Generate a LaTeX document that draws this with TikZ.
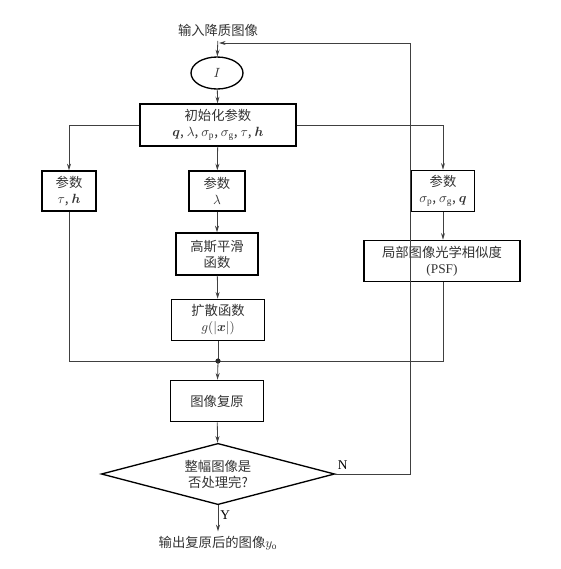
\documentclass[tikz,border=0pt]{standalone}
\usepackage{amsmath}
\usepackage{bm}
\usepackage{fontspec}
\setmainfont{Liberation Serif}
\newfontfamily\cjk{Noto Sans CJK SC}
\usetikzlibrary{shapes.geometric, arrows.meta}
\tikzset{
  box/.style={draw, line width=1pt, align=center, inner sep=0pt, text=black!80, font=\cjk\fontsize{10}{12}\selectfont},
  plain/.style={align=center, text=black!80, font=\cjk\fontsize{10}{12}\selectfont},
  link/.style={draw=black!75, line width=0.6pt},
  arr/.style={link, -{Stealth[length=5pt, width=3pt]}},
}

\begin{document}
\begin{tikzpicture}[x=0.75pt, y=-0.75pt]
	\useasboundingbox (0,0) rectangle (561,569);

	% nodes
	\node[plain] (input) at (218,30) {输入降质图像};
	\node[box, ellipse, minimum width=39pt, minimum height=24pt] (img) at (217,73) {$I$};
	\node[box, minimum width=117pt, minimum height=31.5pt] (init) at (218,125)
		{初始化参数\\$\bm{q}$, $\lambda$, $\sigma_{\mathrm{p}}$, $\sigma_{\mathrm{g}}$, $\tau$, $\bm{h}$};
	\node[box, minimum width=40.5pt, minimum height=30pt] (left) at (69,191) {参数\\$\tau$, $\bm{h}$};
	\node[box, minimum width=42pt, minimum height=30pt] (mid) at (217,191) {参数\\$\lambda$};
	\node[box, minimum width=47pt, minimum height=31pt] (right) at (443,191)
		{参数\\$\sigma_{\mathrm{p}}$, $\sigma_{\mathrm{g}}$, $\bm{q}$};
	\node[box, minimum width=61.5pt, minimum height=31.5pt] (gauss) at (217,254) {高斯平滑\\函数};
	\node[box, minimum width=117pt, minimum height=31pt] (psf) at (442,261)
		{局部图像光学相似度\\{\rmfamily (PSF)}};
	\node[box, minimum width=70pt, minimum height=31pt] (spread) at (218,320)
		{扩散函数\\$g(|\bm{x}|)$};
	\node[box, minimum width=70pt, minimum height=31pt] (restore) at (217,401) {图像复原};
	\node[box, diamond, aspect=3.8, minimum width=175pt, minimum height=46pt] (check) at (218,474)
		{整幅图像是\\否处理完?};
	\node[plain] (output) at (218,543) {输出复原后的图像{\rmfamily$y_{\mathrm{o}}$}};

	\coordinate (join) at (218,361);
	\coordinate (entry) at (219,43);

	% connectors
	\draw[arr] (input) -- (img);
	\draw[arr] (img) -- (init);
	\draw[arr] (init.west) -| (left.north);
	\draw[arr] (init.east) -| (right.north);
	\draw[arr] (init) -- (mid);
	\draw[arr] (mid) -- (gauss);
	\draw[arr] (gauss) -- (spread);
	\draw[arr] (right) -- (right |- psf.north);
	\draw[link] (left.south) |- (join);
	\draw[link] (right |- psf.south) |- (join);
	\draw[link] (spread) -- (join);
	\fill[black!85] (join) circle (2.6);
	\draw[arr] (join) -- (restore);
	\draw[arr] (restore) -- (check);
	\draw[arr] (check) -- node[anchor=north west, pos=0.1, inner sep=1.5pt, font=\rmfamily] {Y} (output);
	\draw[arr] (check.east) -- node[above, pos=0.1, font=\rmfamily] {N} (410,0 |- check.east)
		-- (410,0 |- entry) -- (entry);
\end{tikzpicture}
\end{document}
